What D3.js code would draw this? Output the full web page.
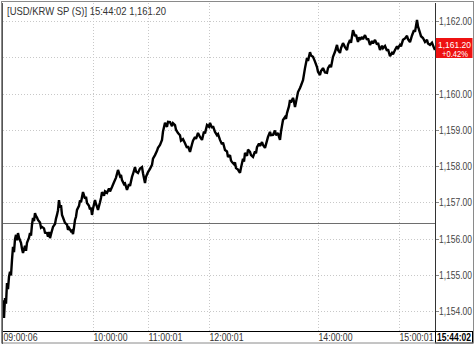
<!DOCTYPE html>
<html>
<head>
<meta charset="utf-8">
<script src="https://cdn.jsdelivr.net/npm/d3@7"></script>
<style>
  html, body { margin: 0; padding: 0; background: #ffffff; }
  svg { display: block; }
</style>
</head>
<body>
<div id="chart"></div>
<script>
// Tick sequence numbers (x) and prices
const tickIndex = [0, 1, 2, 3, 4, 5, 6, 7, 8, 9, 10, 11, 12, 13, 14, 15, 16, 17, 18, 19, 20, 22, 23, 24, 26, 27, 28, 29, 30, 31, 32, 33, 34, 35, 37, 38, 39, 41, 42, 44, 45, 46, 47, 48, 50, 52, 53, 54, 55, 56, 57, 58, 59, 60, 62, 64, 65, 66, 68, 69, 70, 71, 72, 73, 74, 76, 77, 78, 80, 82, 83, 84, 86, 87, 88, 89, 90, 92, 93, 94, 95, 97, 98, 99, 101, 102, 104, 106, 107, 109, 111, 113, 115, 117, 118, 119, 121, 122, 124, 126, 127, 129, 130, 132, 133, 135, 137, 139, 140, 142, 143, 145, 147, 149, 150, 152, 154, 155, 157, 159, 160, 162, 164, 165, 167, 169, 170, 172, 173, 175, 177, 178, 180, 182, 184, 185, 187, 189, 190, 192, 193, 195, 197, 199, 201, 202, 204, 206, 207, 209, 210, 212, 214, 215, 217, 219, 220, 222, 224, 225, 227, 228, 229, 231, 232, 233, 235, 236, 237, 238, 240, 241, 242, 244, 245, 247, 248, 250, 252, 253, 254, 256, 257, 259, 260, 262, 264, 265, 267, 268, 270, 272, 273, 275, 276, 277, 278, 280, 282, 283, 284, 286, 287, 288, 290, 291, 292, 294, 295, 297, 298, 300, 302, 304, 305, 307, 308, 310, 312, 314, 315, 317, 318, 320, 322, 324, 325, 327, 328, 330, 332, 334, 335, 337, 338, 340, 342, 344, 345, 347, 348, 350, 352, 353, 355, 356, 357, 359, 360, 362, 364, 365, 367, 369, 370, 372, 374, 375, 377, 379, 380, 382, 384, 385, 387, 389, 390, 392, 394, 395, 397, 398, 400, 402, 404, 405, 407, 409, 411, 412, 414, 415, 417, 418, 420, 422, 424, 425, 427, 429, 431, 432];
const prices = [1154.30, 1153.81, 1154.36, 1154.20, 1154.77, 1154.60, 1154.95, 1155.08, 1154.98, 1155.41, 1155.77, 1155.62, 1155.98, 1156.10, 1155.95, 1156.15, 1156.02, 1155.95, 1155.88, 1155.72, 1155.60, 1155.80, 1155.66, 1155.88, 1156.02, 1156.15, 1156.08, 1156.38, 1156.57, 1156.48, 1156.70, 1156.62, 1156.58, 1156.51, 1156.44, 1156.30, 1156.32, 1156.28, 1156.16, 1156.15, 1156.05, 1156.18, 1156.01, 1156.12, 1156.32, 1156.40, 1156.55, 1156.65, 1156.78, 1157.06, 1156.85, 1156.92, 1156.65, 1156.58, 1156.43, 1156.38, 1156.24, 1156.29, 1156.20, 1156.22, 1156.12, 1156.30, 1156.51, 1156.60, 1156.79, 1156.90, 1157.05, 1157.00, 1157.28, 1157.10, 1157.15, 1156.98, 1156.90, 1156.80, 1156.85, 1156.65, 1156.82, 1157.06, 1156.95, 1156.88, 1156.79, 1157.00, 1157.12, 1157.28, 1157.18, 1157.30, 1157.26, 1157.38, 1157.30, 1157.42, 1157.55, 1157.68, 1157.89, 1157.72, 1157.75, 1157.61, 1157.50, 1157.52, 1157.34, 1157.50, 1157.45, 1157.70, 1157.78, 1157.97, 1157.85, 1157.81, 1157.93, 1157.97, 1157.80, 1157.53, 1157.70, 1157.83, 1157.92, 1158.03, 1158.20, 1158.30, 1158.42, 1158.50, 1158.58, 1158.72, 1158.95, 1159.19, 1159.08, 1159.22, 1159.21, 1159.10, 1159.18, 1159.13, 1159.00, 1158.91, 1158.85, 1158.70, 1158.74, 1158.63, 1158.50, 1158.55, 1158.39, 1158.60, 1158.70, 1158.80, 1158.75, 1158.91, 1158.80, 1158.72, 1158.95, 1158.90, 1159.13, 1159.08, 1159.19, 1159.05, 1159.10, 1158.94, 1158.85, 1158.88, 1158.72, 1158.60, 1158.65, 1158.44, 1158.40, 1158.25, 1158.30, 1158.15, 1158.11, 1158.05, 1158.10, 1157.94, 1157.90, 1157.85, 1157.81, 1157.95, 1158.20, 1158.12, 1158.36, 1158.28, 1158.45, 1158.39, 1158.30, 1158.25, 1158.40, 1158.35, 1158.52, 1158.62, 1158.55, 1158.66, 1158.58, 1158.50, 1158.70, 1158.80, 1158.94, 1158.85, 1158.86, 1158.98, 1158.85, 1158.91, 1158.80, 1158.72, 1158.95, 1159.27, 1159.35, 1159.30, 1159.46, 1159.65, 1159.82, 1159.75, 1159.88, 1159.78, 1159.63, 1159.90, 1160.04, 1160.15, 1160.22, 1160.37, 1160.70, 1160.98, 1160.90, 1161.14, 1161.05, 1161.01, 1160.88, 1160.73, 1160.60, 1160.51, 1160.62, 1160.70, 1160.58, 1160.57, 1160.70, 1160.79, 1160.72, 1161.01, 1161.15, 1161.34, 1161.20, 1161.12, 1161.25, 1161.39, 1161.28, 1161.20, 1161.35, 1161.48, 1161.40, 1161.75, 1161.58, 1161.62, 1161.42, 1161.55, 1161.48, 1161.56, 1161.50, 1161.61, 1161.48, 1161.52, 1161.34, 1161.45, 1161.38, 1161.48, 1161.35, 1161.40, 1161.20, 1161.32, 1161.25, 1161.31, 1161.18, 1161.22, 1161.03, 1161.12, 1161.08, 1161.20, 1161.30, 1161.25, 1161.34, 1161.30, 1161.48, 1161.52, 1161.59, 1161.50, 1161.42, 1161.60, 1161.75, 1161.70, 1162.03, 1161.85, 1161.67, 1161.58, 1161.53, 1161.42, 1161.48, 1161.38, 1161.34, 1161.40, 1161.26, 1161.20];

const timeTickIndex = [0, 90, 145, 206, 315, 396];
const timeTickLabels = ['09:00:06', '10:00:00', '11:00:01', '12:00:01', '14:00:00', '15:00:01'];
const priceTicks = [1154, 1155, 1156, 1157, 1158, 1159, 1160, 1161, 1162];

const titleText = '[USD/KRW SP (S)] 15:44:02  1,161.20';
const lastTime = '15:44:02';
const lastPrice = 1161.20;
const changeText = '+0.42%';
const prevClose = 1156.43;

const W = 476, H = 344;
const plot = { left: 3, right: 435, top: 3, bottom: 331 };
const axisRight = 473;
const font = '"Liberation Sans", Arial, sans-serif';

const svg = d3.select('#chart').append('svg')
  .attr('width', W)
  .attr('height', H)
  .style('font-family', font);

const x = d3.scaleLinear()
  .domain([0, d3.max(tickIndex)])
  .range([plot.left, plot.right]);

const y = d3.scaleLinear()
  .domain([1154, 1162])
  .range([311, 21]);

const fmt = d3.format(',.2f');
const lastY = y(lastPrice);

// narrow text helper: the original uses a condensed bitmap font
function narrow(sel, len) {
  return sel.attr('textLength', len).attr('lengthAdjust', 'spacingAndGlyphs');
}

// Horizontal grid
svg.append('g')
  .selectAll('line')
  .data(priceTicks)
  .join('line')
  .attr('x1', plot.left).attr('x2', plot.right)
  .attr('y1', d => Math.round(y(d)) + 0.5).attr('y2', d => Math.round(y(d)) + 0.5)
  .attr('stroke', '#c8c8c8')
  .attr('stroke-dasharray', '1,2');

// Vertical grid
svg.append('g')
  .selectAll('line')
  .data(timeTickIndex.slice(1))
  .join('line')
  .attr('x1', d => Math.round(x(d)) + 0.5).attr('x2', d => Math.round(x(d)) + 0.5)
  .attr('y1', plot.top).attr('y2', plot.bottom)
  .attr('stroke', '#c8c8c8')
  .attr('stroke-dasharray', '1,2');

// Previous close line
svg.append('line')
  .attr('x1', plot.left).attr('x2', plot.right)
  .attr('y1', Math.round(y(prevClose)) + 0.5).attr('y2', Math.round(y(prevClose)) + 0.5)
  .attr('stroke', '#6e6e6e');

// Price line
const line = d3.line()
  .x((d, i) => x(tickIndex[i]))
  .y(d => y(d));

svg.append('path')
  .datum(prices)
  .attr('d', line)
  .attr('fill', 'none')
  .attr('stroke', '#000')
  .attr('stroke-width', 2.4)
  .attr('stroke-linejoin', 'miter')
  .attr('stroke-miterlimit', 2);

// Title
narrow(svg.append('text')
  .attr('x', 7).attr('y', 15)
  .attr('font-size', 11)
  .attr('fill', '#333')
  .text(titleText), 159);

// Price axis (labels hidden behind the last-price box are dropped)
const yAxis = svg.append('g');
yAxis.selectAll('line')
  .data(priceTicks)
  .join('line')
  .attr('x1', plot.right).attr('x2', plot.right + 4)
  .attr('y1', d => Math.round(y(d)) + 0.5).attr('y2', d => Math.round(y(d)) + 0.5)
  .attr('stroke', '#888');
narrow(yAxis.selectAll('text')
  .data(priceTicks.filter(d => Math.abs(y(d) - lastY) > 14))
  .join('text')
  .attr('x', plot.right + 4)
  .attr('y', d => y(d) + 4)
  .attr('font-size', 10.5)
  .attr('fill', '#444')
  .text(d => fmt(d)), 33);

// Last price box
svg.append('rect')
  .attr('x', plot.right + 0.5).attr('y', lastY - 12)
  .attr('width', axisRight - plot.right - 1).attr('height', 20)
  .attr('fill', '#ee1111');
narrow(svg.append('text')
  .attr('x', plot.right + 3).attr('y', lastY - 2.5)
  .attr('font-size', 9.5).attr('fill', '#fff')
  .text(fmt(lastPrice)), 33);
narrow(svg.append('text')
  .attr('x', plot.right + 7).attr('y', lastY + 6.5)
  .attr('font-size', 9.5).attr('fill', '#fff')
  .text(changeText), 26);

// Time axis
svg.append('line')
  .attr('x1', plot.left).attr('x2', axisRight)
  .attr('y1', plot.bottom + 0.5).attr('y2', plot.bottom + 0.5)
  .attr('stroke', '#000');
narrow(svg.append('g')
  .selectAll('text')
  .data(timeTickIndex)
  .join('text')
  .attr('x', d => x(d) + 0.5)
  .attr('y', plot.bottom + 10)
  .attr('font-size', 11)
  .attr('fill', '#333')
  .text((d, i) => timeTickLabels[i]), 34);

svg.append('rect')
  .attr('x', plot.right + 0.5).attr('y', plot.bottom + 0.5)
  .attr('width', axisRight - plot.right - 1).attr('height', H - plot.bottom - 1.5)
  .attr('fill', '#fff').attr('stroke', '#000');
narrow(svg.append('text')
  .attr('x', plot.right + 2).attr('y', plot.bottom + 10)
  .attr('font-size', 11).attr('font-weight', 'bold')
  .attr('fill', '#000')
  .text(lastTime), 34);

// Price axis separator and frames
svg.append('line')
  .attr('x1', plot.right + 0.5).attr('x2', plot.right + 0.5)
  .attr('y1', plot.top).attr('y2', plot.bottom)
  .attr('stroke', '#333');
svg.append('rect')
  .attr('x', 1.5).attr('y', 1.5)
  .attr('width', axisRight - 1).attr('height', H - 2.5)
  .attr('fill', 'none').attr('stroke', '#8a8a8a');
svg.append('line')
  .attr('x1', 2.5).attr('x2', 2.5)
  .attr('y1', plot.top).attr('y2', H)
  .attr('stroke', '#555');
</script>
</body>
</html>
